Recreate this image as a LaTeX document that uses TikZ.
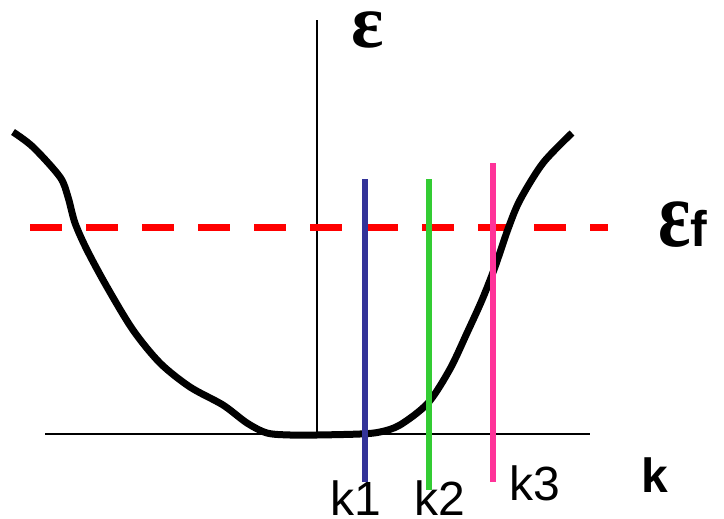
\documentclass[tikz,border=0pt]{standalone}
\usepackage{fontspec}
\setmainfont{Liberation Sans}
\newfontfamily\greekfont{Liberation Serif}
\usepackage{xcolor}
\usetikzlibrary{positioning}

\definecolor{kblue}{RGB}{51,51,153}
\definecolor{kgreen}{RGB}{51,204,51}
\definecolor{kpink}{RGB}{255,51,153}

\tikzset{
  axis/.style={line width=1.8pt, black},
  band/.style={line width=7pt, black, line cap=butt, line join=round},
  fermi/.style={line width=7pt, red, dash pattern=on 32pt off 24pt},
  kline/.style={line width=6pt},
  klabel/.style={font=\fontsize{48}{48}\selectfont, anchor=base, inner sep=0pt},
  elabel/.style={font=\greekfont\bfseries\fontsize{76}{76}\selectfont, anchor=base, inner sep=0pt, text height=38pt}
}

\begin{document}
\begin{tikzpicture}[x=1pt, y=-1pt]
				\useasboundingbox (0,0) rectangle (724,519);
				
				% axes
				\coordinate (xl) at (45,434);
				\coordinate (xr) at (590,434);
				\coordinate (yb) at (317,434);
				\coordinate (yt) at (317,20);
				\draw[axis] (xl) -- (xr);
				\draw[axis] (yb) -- (yt);
				
				% Fermi level
				\coordinate (fl) at (30,227);
				\coordinate (fr) at (608,227);
				\draw[fermi] (fl) -- (fr);
				
				% band
				\draw[band] plot[smooth, tension=0.5] coordinates {
					(13,132) (33,147) (60,177) (68,197) (75,223) (87,250)
					(107,287) (133,330) (160,363) (190,387) (223,405)
					(247,423) (267,433) (290,435) (317,435) (360,434)
					(380,432) (400,425) (428,403) (450,369) (467,333)
					(482,300) (495,267) (508,229) (520,200) (543,163) (572,133)};
				
				% k lines
				\coordinate (k1t) at (365,179);
				\coordinate (k1b) at (365,482);
				\coordinate (k2t) at (429,179);
				\coordinate (k2b) at (429,490);
				\coordinate (k3t) at (493,163);
				\coordinate (k3b) at (493,482);
				\draw[kline, kblue] (k1t) -- (k1b);
				\draw[kline, kgreen] (k2t) -- (k2b);
				\draw[kline, kpink] (k3t) -- (k3b);
				
				\node[klabel] (k1) at (356,515) {k1};
				\node[klabel] (k2) at (440,515) {k2};
				\node[klabel] (k3) at (535,500) {k3};
				\node[klabel, font=\bfseries\fontsize{48}{48}\selectfont] (k) at (655,492) {k};
				
				\node[elabel] (eps) at (368,48) {ε};
				\node[anchor=base west, inner sep=0pt] (epsf) at (658,246)
					{{\greekfont\bfseries\fontsize{76}{76}\selectfont\scalebox{1}[1.25]{ε}}\bfseries\fontsize{50}{50}\selectfont f};
			\end{tikzpicture}
\end{document}
